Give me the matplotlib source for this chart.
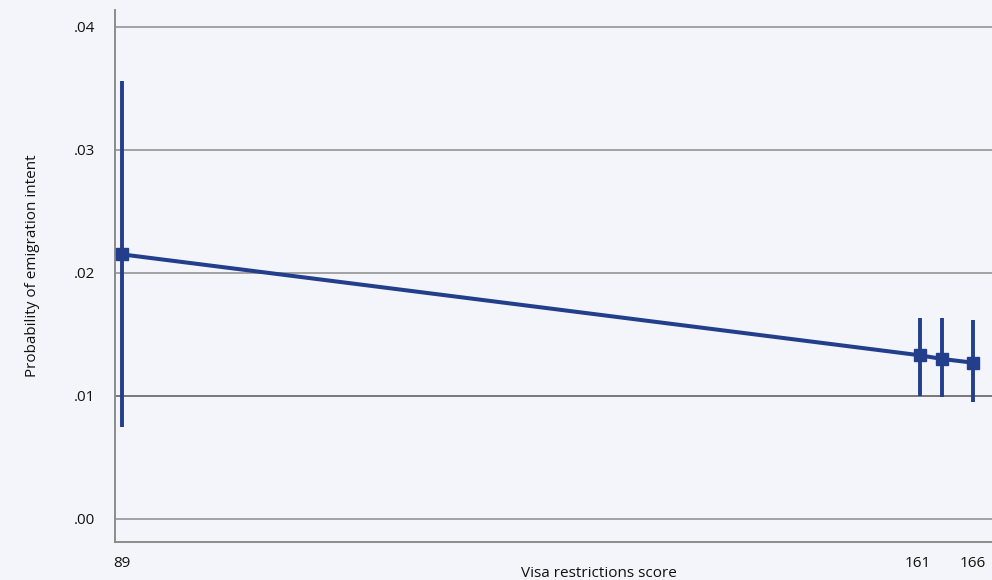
import matplotlib
matplotlib.use("Agg")
import matplotlib.pyplot as plt

# visa restrictions score vs. probability of emigration intent
visa_score = [89, 161.2, 163.2, 166]
prob = [0.0215, 0.0133, 0.0130, 0.0127]
ci_low = [0.0075, 0.0100, 0.0099, 0.0095]
ci_high = [0.0356, 0.0163, 0.0163, 0.0162]

x_ticks = [89, 161, 166]
x_tick_labels = ["89", "161", "166"]
y_ticks = [0.00, 0.01, 0.02, 0.03, 0.04]
y_tick_labels = [".00", ".01", ".02", ".03", ".04"]

bg = "#f4f5fa"
blue = "#233f8c"
grey = "#8c8c8c"

plt.rcParams["font.family"] = ["Open Sans", "DejaVu Sans"]

fig = plt.figure(figsize=(9.92, 5.8), dpi=100, facecolor=bg)
ax = fig.add_axes([0.1159, 0.0655, 0.8841, 0.9173])
ax.set_facecolor(bg)

err_lo = [p - l for p, l in zip(prob, ci_low)]
err_hi = [h - p for p, h in zip(prob, ci_high)]
ax.errorbar(visa_score, prob, yerr=[err_lo, err_hi], color=blue, lw=2.9,
            elinewidth=2.8, capsize=0, marker="s", markersize=9, zorder=3)

ax.set_xlim(88.35, 167.7)
ax.set_ylim(-0.00187, 0.04136)

ax.set_yticks(y_ticks)
ax.set_yticklabels(y_tick_labels)
ax.set_xticks(x_ticks)
ax.set_xticklabels(x_tick_labels)
ax.tick_params(axis="both", length=0, labelsize=11, colors="#111111")
ax.tick_params(axis="y", pad=14)
ax.tick_params(axis="x", pad=10)

for yv in y_ticks:
    ax.axhline(yv, color=grey if yv != 0.01 else "#555555", lw=1.1, zorder=1)

for side in ["top", "right"]:
    ax.spines[side].set_visible(False)
for side in ["left", "bottom"]:
    ax.spines[side].set_color(grey)
    ax.spines[side].set_linewidth(1.4)

ax.set_xlabel("Visa restrictions score", fontsize=11, color="#111111")
ax.xaxis.set_label_coords(0.552, -0.045)
ax.set_ylabel("Probability of emigration intent", fontsize=11, color="#111111")
ax.yaxis.set_label_coords(-0.086, 0.52)

fig.savefig("out.png", dpi=100, facecolor=bg)
